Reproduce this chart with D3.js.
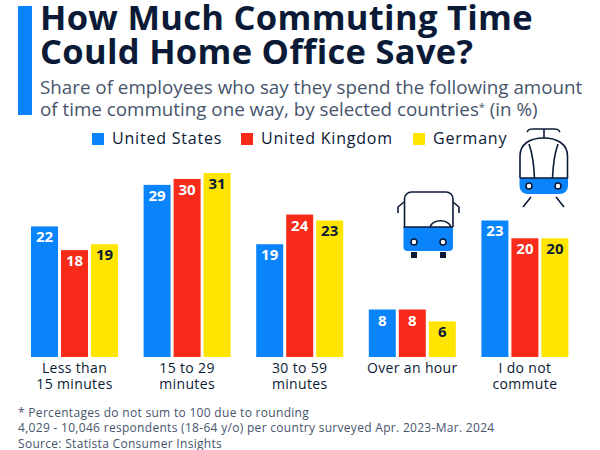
<!DOCTYPE html>
<html>
<head>
<meta charset="utf-8">
<script src="https://cdn.jsdelivr.net/npm/d3@7/dist/d3.min.js"></script>
<style>
  html, body { margin: 0; padding: 0; background: #fff; }
  text { font-family: "Open Sans", sans-serif; }
</style>
</head>
<body>
<script>
// values
const categories = [['Less than', '15 minutes'], ['15 to 29', 'minutes'], ['30 to 59', 'minutes'], ['Over an hour'], ['I do not', 'commute']];
const unitedStates = [22, 29, 19, 8, 23];
const unitedKingdom = [18, 30, 24, 8, 20];
const germany = [19, 31, 23, 6, 20];
const seriesNames = ['United States', 'United Kingdom', 'Germany'];
const seriesColors = ['#0a84fb', '#f82a1a', '#ffe500'];
const labelColors = ['#fff', '#fff', '#0b1a36'];
const titleLines = ['How Much Commuting Time', 'Could Home Office Save?'];
const subtitleLines = ['Share of employees who say they spend the following amount', 'of time commuting one way, by selected countries'];
const footnotes = ['* Percentages do not sum to 100 due to rounding', '4,029 - 10,046 respondents (18-64 y/o) per country surveyed Apr. 2023-Mar. 2024', 'Source: Statista Consumer Insights'];

const navy = '#0b1a36';
const w = 600, h = 450;
const svg = d3.select('body').append('svg').attr('width', w).attr('height', h).style('display', 'block');

// header
svg.append('rect').attr('x', 18).attr('y', 6).attr('width', 14).attr('height', 109).attr('fill', '#0a84fb');
svg.selectAll('.title').data(titleLines).enter().append('text')
  .attr('x', 40).attr('y', (d, i) => 30 + i * 34)
  .attr('font-size', 34.5).attr('letter-spacing', 0.3).attr('font-weight', 700).attr('fill', navy)
  .text(d => d);
let subs = svg.selectAll('.subtitle').data(subtitleLines).enter().append('text')
  .attr('x', 40).attr('y', (d, i) => 94 + i * 22)
  .attr('font-size', 18.8).attr('fill', '#46546c')
  .text(d => d);
// star and unit follow the second line
let last = d3.select(subs.nodes()[1]);
last.append('tspan').attr('dy', -5).attr('font-size', 11).text('*');
last.append('tspan').attr('dy', 5).text(' (in %)');

// legend
const legendX = [92, 241, 413];
seriesNames.forEach((name, i) => {
  svg.append('rect').attr('x', legendX[i]).attr('y', 133).attr('width', 12).attr('height', 12).attr('fill', seriesColors[i]);
  svg.append('text').attr('x', legendX[i] + 20).attr('y', 144).attr('font-size', 16).attr('letter-spacing', 0.8).attr('fill', navy).text(name);
});

// scales
const x0 = d3.scaleBand().domain(d3.range(categories.length)).range([16, 579]).paddingInner(0);
const x1 = d3.scaleBand().domain(d3.range(3)).range([15, 15 + 87]).paddingInner(0.1).paddingOuter(0);
const y = d3.scaleLinear().domain([0, 31]).range([357, 173]);

const rows = [unitedStates, unitedKingdom, germany];
rows.forEach((vals, s) => {
  const g = svg.append('g');
  g.selectAll('rect').data(vals).enter().append('rect')
    .attr('x', (d, i) => x0(i) + x1(s))
    .attr('y', d => y(d))
    .attr('width', x1.bandwidth())
    .attr('height', d => y(0) - y(d))
    .attr('fill', seriesColors[s]);
  g.selectAll('text').data(vals).enter().append('text')
    .attr('x', (d, i) => x0(i) + x1(s) + x1.bandwidth() / 2)
    .attr('y', d => y(d) + 16)
    .attr('text-anchor', 'middle').attr('font-size', 15).attr('font-weight', 700)
    .attr('fill', labelColors[s])
    .text(d => d);
});

// category labels
categories.forEach((lines, i) => {
  lines.forEach((line, j) => {
    svg.append('text')
      .attr('x', x0(i) + 15 + 87 / 2).attr('y', 373 + j * 15.5)
      .attr('text-anchor', 'middle').attr('font-size', 14).attr('letter-spacing', 0.35).attr('fill', navy)
      .text(line);
  });
});

// footnotes
svg.selectAll('.foot').data(footnotes).enter().append('text')
  .attr('x', 18).attr('y', (d, i) => [417, 432, 448][i])
  .attr('font-size', 12).attr('letter-spacing', 0.3).attr('fill', '#46546c')
  .text(d => d);

// bus icon
const bus = svg.append('g').attr('transform', 'translate(380,120)').attr('fill', 'none').attr('stroke', navy).attr('stroke-width', 1.6);
bus.append('path').attr('fill', '#0a84fb').attr('stroke', 'none')
  .attr('d', 'M23.5 107 H73 V127 a4 4 0 0 1 -4 4 H27.5 a4 4 0 0 1 -4 -4 Z');
bus.append('path').attr('d', 'M24.5 107 V79 a7 7 0 0 1 7 -7 H66 a7 7 0 0 1 7 7 V107 M23.5 107 H73');
bus.append('path').attr('d', 'M24 82 L18 87 V93 M73 82 L79 87 V93');
bus.append('path').attr('d', 'M50 107 a11 9 0 0 1 21 0');
[34, 63].forEach(cx => {
  bus.append('circle').attr('cx', cx).attr('cy', 122).attr('r', 3).attr('fill', '#fff').attr('stroke', navy);
  bus.append('rect').attr('x', cx - 3).attr('y', 132).attr('width', 6).attr('height', 6).attr('fill', navy).attr('stroke', 'none');
});

// tram icon
const tram = svg.append('g').attr('transform', 'translate(380,120)').attr('fill', 'none').attr('stroke', navy).attr('stroke-width', 1.6);
tram.append('path').attr('fill', '#0a84fb').attr('stroke', 'none')
  .attr('d', 'M139.5 58 H188 V66 a8 8 0 0 1 -8 8 H147.5 a8 8 0 0 1 -8 -8 Z');
tram.append('path').attr('d', 'M140 58 V36 C140 24 150 18 163.5 18 C177 18 187.5 24 187.5 36 V58 H140');
tram.append('path').attr('d', 'M149 24 C153 35 154 47 154.5 58 M178 24 C174 35 173 47 172.5 58');
tram.append('path').attr('d', 'M164 18 V9 M147 12 C149 9 150 9 153 9 H174 C177 9 178 9 180 12');
tram.append('path').attr('d', 'M151 77 L143 87 M176 77 L184 87');
[149, 178].forEach(cx => {
  tram.append('circle').attr('cx', cx).attr('cy', 66).attr('r', 3).attr('fill', '#fff').attr('stroke', navy);
});
</script>
</body>
</html>
